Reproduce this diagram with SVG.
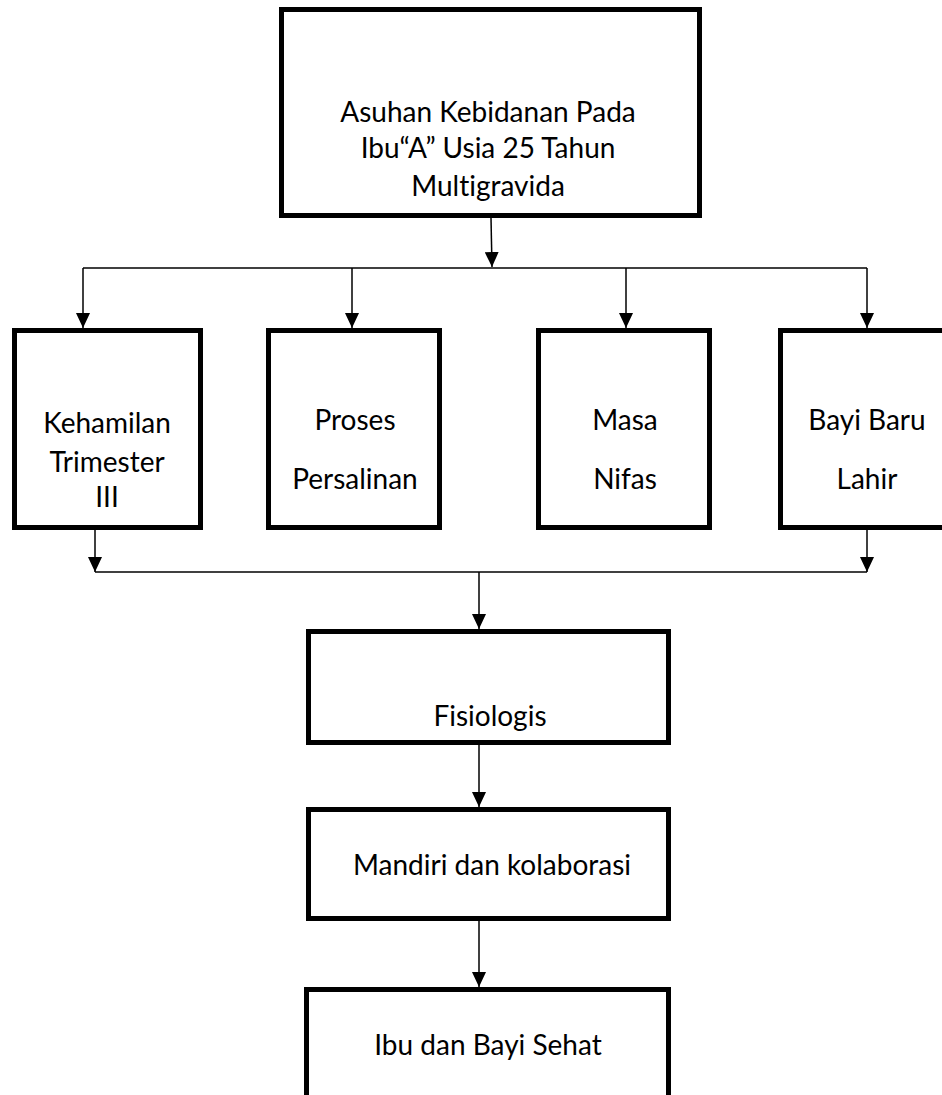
<svg xmlns="http://www.w3.org/2000/svg" width="942" height="1095" viewBox="0 0 942 1095">
<style>
.box{fill:#fff;stroke:#000;stroke-width:5}
.t{font-family:Lato,"Liberation Sans",sans-serif;font-size:28px;fill:#000;text-anchor:middle;font-variant-ligatures:none}
.c{fill:none;stroke:#000;stroke-width:1.5}
</style>
<defs>
<marker id="ah" viewBox="0 0 15 14" refX="15" refY="7" markerWidth="15" markerHeight="14" markerUnits="userSpaceOnUse" orient="auto">
<path d="M0,0 L15,7 L0,14 Z" fill="#000"/>
</marker>
</defs>
<rect width="942" height="1095" fill="#fff"/>
<g id="connectors">
<line class="c" x1="491" y1="218" x2="492" y2="267" marker-end="url(#ah)"/>
<line class="c" x1="83" y1="268" x2="867" y2="268"/>
<line class="c" x1="83" y1="268" x2="83" y2="328" marker-end="url(#ah)"/>
<line class="c" x1="352" y1="268" x2="352" y2="328" marker-end="url(#ah)"/>
<line class="c" x1="626" y1="268" x2="626" y2="328" marker-end="url(#ah)"/>
<line class="c" x1="867" y1="268" x2="867" y2="328" marker-end="url(#ah)"/>
<line class="c" x1="95" y1="530" x2="95" y2="572" marker-end="url(#ah)"/>
<line class="c" x1="867" y1="530" x2="867" y2="572" marker-end="url(#ah)"/>
<line class="c" x1="95" y1="572" x2="867" y2="572"/>
<line class="c" x1="479" y1="572" x2="479" y2="629" marker-end="url(#ah)"/>
<line class="c" x1="479" y1="737" x2="479" y2="807" marker-end="url(#ah)"/>
<line class="c" x1="479" y1="915" x2="479" y2="987" marker-end="url(#ah)"/>
</g>
<g id="n-asuhan">
<rect class="box" x="281.5" y="9.5" width="418" height="206"/>
<text class="t" x="488" y="122">Asuhan Kebidanan Pada</text>
<text class="t" x="488" y="158">Ibu“A” Usia 25 Tahun</text>
<text class="t" x="488" y="196">Multigravida</text>
</g>
<g id="n-kehamilan">
<rect class="box" x="14.5" y="330.5" width="186" height="197"/>
<text class="t" x="107" y="433">Kehamilan</text>
<text class="t" x="107" y="472">Trimester</text>
<text class="t" x="107" y="507">III</text>
</g>
<g id="n-persalinan">
<rect class="box" x="268.5" y="330.5" width="171" height="197"/>
<text class="t" x="355" y="430">Proses</text>
<text class="t" x="355" y="489">Persalinan</text>
</g>
<g id="n-nifas">
<rect class="box" x="538.5" y="330.5" width="171" height="197"/>
<text class="t" x="625" y="430">Masa</text>
<text class="t" x="625" y="489">Nifas</text>
</g>
<g id="n-bayi">
<rect class="box" x="780.5" y="330.5" width="200" height="197"/>
<text class="t" x="867" y="430">Bayi Baru</text>
<text class="t" x="867" y="489">Lahir</text>
</g>
<g id="n-fisiologis">
<rect class="box" x="308.5" y="631.5" width="360" height="111"/>
<text class="t" x="490" y="726">Fisiologis</text>
</g>
<g id="n-mandiri">
<rect class="box" x="308.5" y="809.5" width="360" height="109"/>
<text class="t" x="492" y="875">Mandiri dan kolaborasi</text>
</g>
<g id="n-sehat">
<rect class="box" x="306.5" y="989.5" width="362" height="200"/>
<text class="t" x="488" y="1055">Ibu dan Bayi Sehat</text>
</g>
</svg>
